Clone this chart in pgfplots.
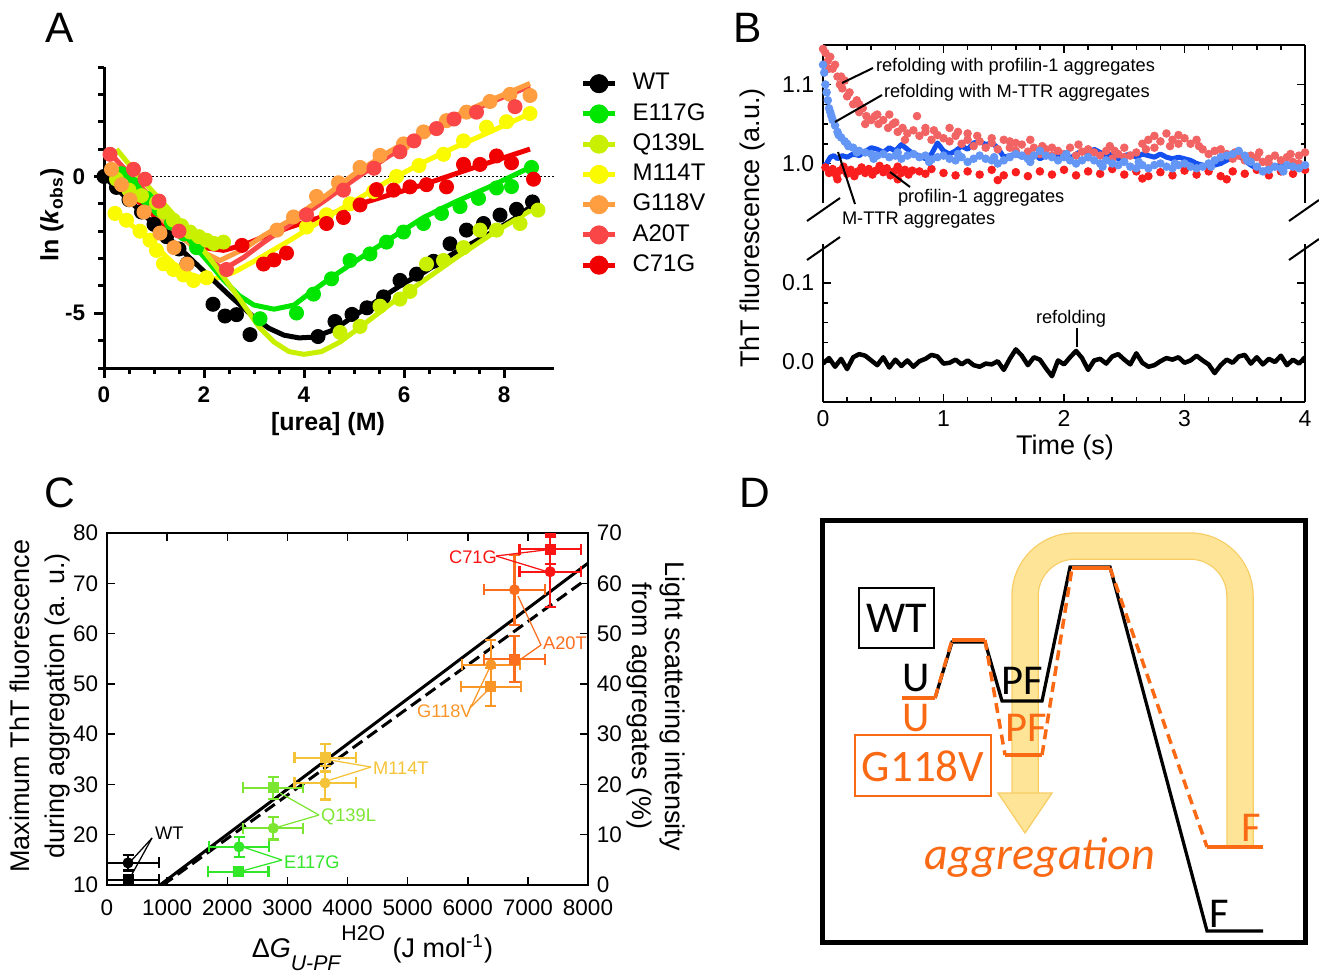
\documentclass[border=0pt]{standalone}
\usepackage{fontspec}
\setmainfont{Liberation Sans}
\newfontfamily\calibri{Carlito}
\usepackage{pgfplots}
\pgfplotsset{compat=1.18}

% panel A colours
\definecolor{aE}{RGB}{0,230,0}
\definecolor{aQ}{RGB}{200,240,0}
\definecolor{aM}{RGB}{250,250,0}
\definecolor{aG}{RGB}{255,158,64}
\definecolor{aA}{RGB}{250,70,70}
\definecolor{aC}{RGB}{240,0,0}
% panel B colours
\definecolor{bLR}{RGB}{242,100,100}
\definecolor{bR}{RGB}{250,30,30}
\definecolor{bB}{RGB}{20,80,240}
\definecolor{bLB}{RGB}{100,150,245}
% panel C colours
\definecolor{cE}{RGB}{50,230,40}
\definecolor{cQ}{RGB}{125,230,50}
\definecolor{cM}{RGB}{245,195,55}
\definecolor{cG}{RGB}{250,150,40}
\definecolor{cA}{RGB}{250,110,30}
\definecolor{cC}{RGB}{250,20,20}
% panel D colours
\definecolor{dOr}{RGB}{250,105,20}
\definecolor{band}{RGB}{253,228,150}
\definecolor{bandedge}{RGB}{248,205,100}

\begin{document}
\begin{tikzpicture}[x=0.4pt,y=0.4pt]

%================ A =================
\begin{axis}[at={(41.6pt,-147.2pt)}, anchor=south west, scale only axis,
  width=180pt, height=120.4pt,
  xmin=0, xmax=9, ymin=-7, ymax=4,
  axis lines=left, axis line style={-, line width=1.2pt},
  tick align=outside, major tick length=4pt, minor tick length=2.4pt,
  every tick/.style={black, line width=1.2pt},
  xtick={0,2,4,6,8}, xticklabels={0,2,4,6,8}, minor x tick num=3,
  ytick={-5,0}, yticklabels={-5,0},
  minor ytick={-7,-6,-4,-3,-2,-1,1,2,3,4},
  ticklabel style={font=\fontsize{9}{10}\selectfont\bfseries},
  legend style={at={(axis cs:9.52,3.82)}, anchor=north west, draw=none, fill=none,
    inner sep=0pt, row sep=3.1pt, column sep=6pt,
    font=\fontsize{9.6}{11}\selectfont,
    nodes={inner sep=0pt, text height=7pt, text depth=2pt, anchor=west}},
  legend cell align=left,
  legend image code/.code={\draw[mark repeat=2,mark phase=2,#1] plot coordinates {(0pt,0pt) (6.4pt,0pt) (12.8pt,0pt)};},
]
\addlegendimage{black, line width=2pt, mark=*, mark size=2.8pt}\addlegendentry{WT}
\addlegendimage{aE, line width=2pt, mark=*, mark size=2.8pt}\addlegendentry{E117G}
\addlegendimage{aQ, line width=2pt, mark=*, mark size=2.8pt}\addlegendentry{Q139L}
\addlegendimage{aM, line width=2pt, mark=*, mark size=2.8pt}\addlegendentry{M114T}
\addlegendimage{aG, line width=2pt, mark=*, mark size=2.8pt}\addlegendentry{G118V}
\addlegendimage{aA, line width=2pt, mark=*, mark size=2.8pt}\addlegendentry{A20T}
\addlegendimage{aC, line width=2pt, mark=*, mark size=2.8pt}\addlegendentry{C71G}

\addplot[forget plot, black, densely dotted, line width=0.6pt] coordinates {(0,0) (9,0)};

% data points
\addplot[forget plot, only marks, mark=*, mark size=2.8pt, black] coordinates {
(0.0,0.0)(0.25,-0.4)(0.5,-0.85)(0.75,-1.3)(1.0,-1.75)(1.25,-2.2)(1.5,-2.65)(1.66,-3.19)
(2.18,-4.67)(2.42,-5.1)(2.65,-5.05)(2.92,-5.78)(4.28,-5.85)(4.62,-5.3)(4.96,-5.04)(5.26,-4.8)
(5.59,-4.4)(5.92,-3.8)(6.25,-3.57)(6.59,-3.1)(6.92,-2.46)(7.25,-1.96)(7.59,-1.72)(7.92,-1.41)
(8.25,-1.2)(8.57,-0.93)};
\addplot[forget plot, only marks, mark=*, mark size=2.8pt, aE] coordinates {
(0.35,0.1)(0.6,-0.3)(0.85,-0.8)(1.1,-1.2)(1.35,-1.7)(1.6,-2.1)(1.85,-2.6)
(3.12,-5.2)(3.85,-4.99)(4.19,-4.3)(4.55,-3.74)(4.92,-3.07)(5.32,-2.83)(5.65,-2.4)(5.99,-2.03)
(6.39,-1.72)(6.75,-1.35)(7.12,-1.1)(7.49,-0.8)(7.85,-0.42)(8.15,-0.37)(8.55,0.33)};
\addplot[forget plot, only marks, mark=*, mark size=2.8pt, aQ] coordinates {
(0.25,-0.1)(0.5,-0.5)(0.75,-0.7)(1.05,-0.96)(1.2,-1.3)(1.39,-1.6)(1.55,-1.8)(1.72,-2.03)
(1.9,-2.2)(2.05,-2.33)(2.2,-2.45)(2.39,-2.4)(4.72,-5.7)(5.12,-5.48)(5.52,-4.74)(5.92,-4.48)(6.12,-4.2)
(6.45,-3.2)(6.79,-3.07)(7.19,-2.6)(7.52,-1.96)(7.85,-1.96)(8.32,-1.72)(8.68,-1.23)};
\addplot[forget plot, only marks, mark=*, mark size=2.8pt, aM] coordinates {
(0.22,-1.35)(0.45,-1.6)(0.72,-2.0)(0.92,-2.33)(1.05,-2.7)(1.19,-3.19)(1.39,-3.4)(1.59,-3.6)
(1.79,-3.8)(2.05,-3.7)(4.05,-1.85)(4.45,-1.4)(4.92,-1.0)(5.39,-0.55)(5.85,0.0)(6.3,0.4)
(6.79,0.81)(7.19,1.3)(7.65,1.8)(8.05,2.0)(8.52,2.3)};
\addplot[forget plot, only marks, mark=*, mark size=2.8pt, aG] coordinates {
(0.15,0.26)(0.35,-0.3)(0.52,-0.85)(0.8,-1.3)(1.12,-2.07)(1.4,-2.6)(1.66,-3.2)
(3.46,-1.96)(3.79,-1.48)(4.25,-0.73)(4.69,-0.23)(5.12,0.33)(5.52,0.77)(5.99,1.19)
(6.39,1.63)(6.85,2.04)(7.25,2.35)(7.72,2.74)(8.12,3.0)(8.52,2.96)};
\addplot[forget plot, only marks, mark=*, mark size=2.8pt, aA] coordinates {
(0.12,0.81)(0.59,0.26)(0.82,-0.1)(1.1,-0.9)(1.5,-2.0)(2.45,-3.4)(4.05,-1.4)(4.79,-0.5)
(5.4,0.3)(5.92,0.9)(6.2,1.3)(6.65,1.75)(7.0,2.1)(7.45,2.35)(8.22,2.55)};
\addplot[forget plot, only marks, mark=*, mark size=2.8pt, aC] coordinates {
(2.76,-2.52)(3.19,-3.2)(3.4,-3.05)(3.65,-2.8)(4.45,-1.72)(4.79,-1.5)(5.12,-1.04)(5.45,-0.48)
(5.79,-0.5)(6.12,-0.38)(6.45,-0.3)(6.85,-0.38)(7.19,0.44)(7.52,0.44)(7.85,0.75)(8.15,0.5)(8.59,-0.1)};

% fitted curves
\addplot[forget plot, aC, line width=2pt] coordinates {
(0.65,-0.85)(1.1,-1.6)(1.6,-2.3)(2.0,-2.6)(2.39,-2.7)(2.8,-2.5)(3.2,-2.2)(3.72,-1.85)
(4.4,-1.45)(5.05,-1.04)(5.7,-0.68)(6.39,-0.3)(7.0,0.08)(7.72,0.52)(8.52,1.0)};
\addplot[forget plot, aM, line width=2pt] coordinates {
(0.2,-1.3)(0.6,-1.85)(1.0,-2.5)(1.4,-3.2)(1.8,-3.65)(2.2,-3.75)(2.6,-3.5)(3.0,-3.1)
(3.72,-2.33)(4.4,-1.55)(5.05,-0.85)(5.7,-0.15)(6.39,0.52)(7.0,1.05)(7.72,1.63)(8.52,2.3)};
\addplot[forget plot, aA, line width=2pt] coordinates {
(0.15,0.8)(0.6,-0.1)(1.1,-1.1)(1.6,-2.1)(2.0,-2.9)(2.39,-3.4)(2.8,-2.95)(3.2,-2.4)
(3.72,-1.75)(4.4,-0.9)(5.05,-0.05)(5.7,0.75)(6.39,1.5)(7.0,2.1)(7.72,2.7)(8.52,3.3)};
\addplot[forget plot, aG, line width=2pt] coordinates {
(0.3,0.0)(0.8,-0.9)(1.3,-1.8)(1.8,-2.6)(2.32,-3.07)(2.8,-2.65)(3.2,-2.15)(3.72,-1.6)
(4.4,-0.75)(5.05,0.15)(5.7,0.9)(6.39,1.63)(7.0,2.2)(7.72,2.78)(8.52,3.4)};
\addplot[forget plot, aE, line width=2pt] coordinates {
(0.35,0.2)(0.8,-0.6)(1.2,-1.35)(1.6,-2.1)(2.05,-3.05)(2.4,-3.8)(2.7,-4.35)(3.0,-4.7)
(3.4,-4.85)(3.8,-4.7)(4.05,-4.35)(4.5,-3.75)(5.05,-3.07)(5.7,-2.3)(6.39,-1.5)(7.0,-0.95)
(7.72,-0.37)(8.52,0.33)};
\addplot[forget plot, black, line width=2pt] coordinates {
(0,0)(0.5,-0.87)(1,-1.74)(1.5,-2.6)(2,-3.47)(2.5,-4.33)(3.0,-5.15)(3.3,-5.55)(3.6,-5.8)
(3.9,-5.9)(4.2,-5.87)(4.6,-5.6)(5.0,-5.1)(5.5,-4.5)(6.0,-3.9)(6.4,-3.5)(7.0,-2.8)(7.7,-2.1)
(8.2,-1.55)(8.65,-0.95)};
\addplot[forget plot, aQ, line width=2pt] coordinates {
(0.25,1.0)(0.7,0.0)(1.2,-1.0)(1.72,-2.07)(2.2,-3.2)(2.72,-4.5)(3.1,-5.5)(3.4,-6.05)
(3.7,-6.4)(4.0,-6.5)(4.35,-6.4)(4.72,-6.05)(5.2,-5.4)(5.72,-4.67)(6.4,-3.8)(7.05,-2.96)
(7.8,-2.05)(8.66,-1.1)};
\end{axis}

%================ B upper =================
\begin{axis}[at={(329.2pt,-81.2pt)}, anchor=south west, scale only axis,
  width=192.8pt, height=63.2pt,
  xmin=0, xmax=4, ymin=0.95, ymax=1.15,
  axis x line*=top, axis y line*=box,
  axis line style={line width=0.8pt},
  tick align=inside, major tick length=3.2pt, minor tick length=1.8pt,
  every tick/.style={black, line width=0.6pt},
  xtick={0,1,2,3,4}, xticklabels={}, minor x tick num=4,
  ytick={1.0,1.1}, yticklabels={1.0,1.1}, minor y tick num=3,
  ticklabel style={font=\fontsize{9.2}{10}\selectfont},
]
% refolding with profilin-1 aggregates
\addplot[only marks, mark=*, mark size=1.5pt, bLR] coordinates {
(0.00,1.145)(0.02,1.14)(0.04,1.13)(0.06,1.135)(0.08,1.12)(0.10,1.125)(0.12,1.11)(0.14,1.10)
(0.16,1.095)(0.18,1.105)(0.20,1.085)(0.22,1.09)(0.25,1.075)(0.28,1.08)(0.30,1.065)(0.33,1.07)
(0.36,1.06)(0.40,1.055)(0.43,1.06)(0.46,1.05)(0.50,1.055)(0.54,1.045)(0.58,1.05)(0.62,1.04)
(0.66,1.045)(0.70,1.038)(0.75,1.042)(0.80,1.035)(0.85,1.04)(0.90,1.03)(0.95,1.036)(1.00,1.032)
(1.05,1.028)(1.10,1.035)(1.15,1.025)(1.20,1.03)(1.25,1.022)(1.30,1.028)(1.35,1.02)(1.40,1.026)
(1.45,1.018)(1.50,1.03)(1.55,1.02)(1.60,1.016)(1.65,1.024)(1.70,1.015)(1.75,1.02)(1.80,1.012)
(1.85,1.018)(1.90,1.01)(1.95,1.016)(2.00,1.012)(2.05,1.02)(2.10,1.01)(2.15,1.015)(2.20,1.008)
(2.25,1.014)(2.30,1.01)(2.35,1.016)(2.40,1.006)(2.45,1.012)(2.50,1.02)(2.55,1.01)(2.60,1.014)
(2.65,1.025)(2.70,1.03)(2.75,1.035)(2.80,1.028)(2.85,1.038)(2.90,1.03)(2.95,1.036)(3.00,1.032)
(3.05,1.025)(3.10,1.03)(3.15,1.018)(3.20,1.012)(3.25,1.016)(3.30,1.008)(3.35,1.012)(3.40,1.006)
(3.45,1.01)(3.50,1.004)(3.55,1.01)(3.60,1.008)(3.65,1.002)(3.70,1.006)(3.75,1.01)(3.80,1.004)
(3.85,1.008)(3.90,1.002)(3.95,1.01)(4.00,1.014)
(0.05,1.12)(0.15,1.11)(0.3,1.075)(0.45,1.062)(0.6,1.052)(0.78,1.06)(0.85,1.045)(1.05,1.045)
(1.2,1.038)(1.4,1.032)(1.6,1.026)(1.9,1.02)(2.2,1.018)(2.5,1.008)(2.75,1.02)(2.95,1.025)
(3.3,1.018)(3.7,1.0)(3.95,1.0)(0.35,1.05)(0.55,1.062)(1.12,1.04)(1.72,1.03)(2.38,1.022)
(0.68,1.03)(0.92,1.042)(1.28,1.035)(1.55,1.028)(1.82,1.022)(2.12,1.024)(2.42,1.016)(2.68,1.018)
(2.88,1.022)(3.12,1.022)(3.42,1.014)(3.62,1.014)(3.88,1.012)};
% profilin-1 aggregates
\addplot[only marks, mark=*, mark size=1.5pt, bR] coordinates {
(0.02,0.995)(0.05,0.988)(0.08,0.993)(0.11,0.985)(0.14,0.991)(0.17,0.996)(0.20,0.987)(0.23,0.992)
(0.26,0.984)(0.29,0.99)(0.32,0.995)(0.35,0.988)(0.38,0.993)(0.41,0.986)(0.44,0.991)(0.47,0.997)
(0.50,0.989)(0.53,0.994)(0.56,0.985)(0.59,0.99)(0.62,0.996)(0.65,0.988)(0.68,0.992)(0.71,0.986)
(0.74,0.991)(0.80,0.99)(0.85,0.987)(0.9,0.993)(1.0,0.988)(1.1,0.985)(1.2,0.99)(1.3,0.986)
(1.4,0.992)(1.5,0.985)(1.6,0.989)(1.7,0.984)(1.8,0.99)(1.9,0.986)(2.0,0.992)(2.1,0.985)
(2.2,0.99)(2.3,0.987)(2.4,0.993)(2.5,0.986)(2.6,0.99)(2.7,0.984)(2.8,0.989)(2.9,0.985)
(3.0,0.991)(3.1,0.986)(3.2,0.99)(3.3,0.984)(3.4,0.99)(3.5,0.987)(3.6,0.992)(3.7,0.985)
(3.8,0.99)(3.9,0.987)(4.0,0.992)(1.45,0.979)(0.62,0.98)(0.12,0.98)(2.65,0.981)(3.35,0.98)};
% M-TTR aggregates
\addplot[bB, line width=2pt, line join=round] coordinates {
(0,0.996)(0.03,1.0)(0.06,1.008)(0.09,1.01)(0.12,1.006)(0.16,1.01)(0.2,1.008)(0.25,1.012)
(0.3,1.01)(0.35,1.015)(0.4,1.02)(0.45,1.018)(0.5,1.014)(0.55,1.02)(0.6,1.016)(0.65,1.024)
(0.7,1.018)(0.75,1.012)(0.8,1.01)(0.85,1.006)(0.9,1.012)(0.95,1.026)(1.0,1.016)(1.05,1.012)
(1.1,1.016)(1.15,1.022)(1.2,1.018)(1.25,1.026)(1.3,1.028)(1.35,1.024)(1.4,1.026)(1.45,1.02)
(1.5,1.008)(1.55,1.01)(1.6,1.012)(1.65,1.008)(1.7,1.01)(1.75,1.012)(1.8,1.006)(1.85,1.01)
(1.9,1.008)(1.95,1.012)(2.0,1.01)(2.05,1.006)(2.1,1.012)(2.15,1.016)(2.2,1.012)(2.25,1.018)
(2.3,1.014)(2.35,1.01)(2.4,1.012)(2.45,1.006)(2.5,1.01)(2.55,1.012)(2.6,1.008)(2.65,1.012)
(2.7,1.01)(2.75,1.008)(2.8,1.012)(2.85,1.008)(2.9,1.006)(2.95,1.008)(3.0,1.006)(3.05,1.004)
(3.1,1.0)(3.15,0.998)(3.2,0.996)(3.25,0.998)(3.3,1.0)(3.35,1.004)(3.4,1.008)(3.45,1.01)
(3.5,1.004)(3.55,0.998)(3.6,0.994)(3.65,0.99)(3.7,0.994)(3.75,0.996)(3.8,0.998)(3.85,0.996)
(3.9,0.998)(3.95,0.996)(4.0,0.998)};
% refolding with M-TTR aggregates
\addplot[only marks, mark=*, mark size=1.5pt, bLB] coordinates {
(0,1.125)(0.01,1.115)(0.02,1.1)(0.03,1.09)(0.04,1.08)(0.05,1.07)(0.06,1.065)(0.08,1.055)
(0.10,1.048)(0.12,1.04)(0.15,1.033)(0.18,1.028)(0.21,1.022)(0.25,1.02)(0.3,1.016)(0.35,1.014)
(0.4,1.012)(0.45,1.01)(0.5,1.012)(0.55,1.008)(0.6,1.01)(0.65,1.006)(0.7,1.01)(0.75,1.012)
(0.8,1.008)(0.85,1.01)(0.9,1.005)(0.95,1.008)(1.0,1.01)(1.05,1.006)(1.1,1.004)(1.15,1.008)
(1.2,1.002)(1.25,1.006)(1.3,1.01)(1.35,1.006)(1.4,1.004)(1.45,1.0)(1.5,1.004)(1.55,1.008)
(1.6,1.012)(1.65,1.01)(1.7,1.006)(1.75,1.01)(1.8,1.016)(1.85,1.01)(1.9,1.008)(1.95,1.004)
(2.0,1.008)(2.05,1.004)(2.1,1.0)(2.15,1.004)(2.2,1.008)(2.25,1.004)(2.3,1.0)(2.35,1.004)
(2.4,1.0)(2.45,0.998)(2.5,1.002)(2.55,0.996)(2.6,0.994)(2.65,0.998)(2.7,0.994)(2.75,0.998)
(2.8,1.0)(2.85,0.996)(2.9,0.994)(2.95,0.998)(3.0,1.0)(3.05,0.996)(3.1,0.994)(3.15,0.996)
(3.2,1.0)(3.25,1.004)(3.3,1.008)(3.35,1.01)(3.4,1.012)(3.45,1.016)(3.5,1.01)(3.55,1.002)
(3.6,0.996)(3.65,0.99)(3.7,0.992)(3.75,0.996)(3.8,0.994)(3.85,0.998)(3.9,0.996)(3.95,0.994)(4.0,0.998)
(0.07,1.06)(0.13,1.036)(0.2,1.025)(0.28,1.014)(0.42,1.006)(0.62,1.014)(0.88,1.002)(1.12,1.012)
(1.42,1.008)(1.72,1.002)(2.02,1.012)(2.32,0.996)(2.62,1.002)(2.92,1.0)(3.22,0.996)(3.52,1.004)(3.82,0.99)};
\end{axis}

%================ B lower =================
\begin{axis}[at={(329.2pt,-160.6pt)}, anchor=south west, scale only axis,
  width=192.8pt, height=63.2pt,
  xmin=0, xmax=4, ymin=-0.05, ymax=0.15,
  axis x line*=bottom, axis y line*=box,
  axis line style={line width=0.8pt},
  tick align=inside, major tick length=3.2pt, minor tick length=1.8pt,
  every tick/.style={black, line width=0.6pt},
  xtick={0,1,2,3,4}, xticklabels={0,1,2,3,4}, minor x tick num=4,
  ytick={0,0.1}, yticklabels={0.0,0.1}, minor y tick num=3,
  ticklabel style={font=\fontsize{9.2}{10}\selectfont},
]
% refolding
\addplot[black, line width=1.8pt, line join=round] coordinates {
(0.00,-0.002)(0.05,0.005)(0.10,-0.006)(0.15,0.004)(0.20,-0.009)(0.25,0.006)(0.30,0.010)(0.35,0.008)
(0.40,0.002)(0.45,-0.004)(0.50,0.006)(0.55,-0.007)(0.60,0.003)(0.65,-0.005)(0.70,0.002)(0.75,-0.006)
(0.80,0.001)(0.85,0.004)(0.90,0.009)(0.95,0.007)(1.00,-0.002)(1.05,-0.001)(1.10,0.003)(1.15,-0.003)
(1.20,0.002)(1.25,-0.004)(1.30,-0.006)(1.35,-0.002)(1.40,-0.003)(1.45,0.001)(1.50,-0.010)(1.55,0.004)
(1.60,0.016)(1.65,0.008)(1.70,-0.004)(1.75,0.006)(1.80,0.003)(1.85,-0.008)(1.90,-0.018)(1.95,0.002)
(2.00,-0.003)(2.05,0.006)(2.10,0.014)(2.15,0.005)(2.20,-0.010)(2.25,0.002)(2.30,0.004)(2.35,-0.002)
(2.40,0.007)(2.45,0.010)(2.50,0.003)(2.55,-0.003)(2.60,0.011)(2.65,-0.001)(2.70,-0.006)(2.75,-0.004)
(2.80,0.001)(2.85,0.005)(2.90,0.003)(2.95,0.006)(3.00,-0.001)(3.05,0.002)(3.10,0.008)(3.15,0.002)
(3.20,-0.003)(3.25,-0.014)(3.30,-0.004)(3.35,0.003)(3.40,-0.001)(3.45,0.007)(3.50,0.009)(3.55,-0.002)
(3.60,0.006)(3.65,-0.003)(3.70,0.004)(3.75,0.000)(3.80,0.008)(3.85,-0.004)(3.90,0.003)(3.95,-0.002)(4.00,0.006)};
\end{axis}

%================ C =================
\begin{axis}[at={(42.8pt,-354pt)}, anchor=south west, scale only axis,
  width=192.4pt, height=140.8pt,
  xmin=0, xmax=8000, ymin=10, ymax=80,
  axis line style={line width=0.8pt},
  tick align=inside, major tick length=3.2pt,
  every tick/.style={black, line width=0.6pt},
  xtick={0,1000,2000,3000,4000,5000,6000,7000,8000},
  xticklabels={0,1000,2000,3000,4000,5000,6000,7000,8000},
  ytick={10,20,30,40,50,60,70,80}, yticklabels={10,20,30,40,50,60,70,80},
  ytick pos=left,
  ticklabel style={font=\fontsize{9}{10}\selectfont},
  xticklabel style={yshift=-2.4pt},
  error bars/error bar style={line width=0.9pt},
  error bars/error mark options={rotate=90, line width=0.9pt, mark size=2.2pt},
]
\addplot[black, line width=1.2pt] coordinates {(880,10) (8000,74)};
\addplot[black, line width=1.2pt, dash pattern=on 4.8pt off 2.4pt] coordinates {(930,10) (7950,70.6)};
% circles: ThT, squares: light scattering
\addplot[black, only marks, mark=*, mark size=2pt, error bars/.cd, x dir=both, x explicit, y dir=both, y explicit]
  coordinates {(350,14.4) +- (515,1.5)};
\addplot[black, only marks, mark=square*, mark size=2pt, error bars/.cd, x dir=both, x explicit, y dir=both, y explicit]
  coordinates {(350,11.0) +- (515,0.5)};
\addplot[cE, only marks, mark=*, mark size=2pt, error bars/.cd, x dir=both, x explicit, y dir=both, y explicit]
  coordinates {(2196,17.6) +- (500,2.0)};
\addplot[cE, only marks, mark=square*, mark size=2pt, error bars/.cd, x dir=both, x explicit, y dir=both, y explicit]
  coordinates {(2185,12.6) +- (500,0.5)};
\addplot[cQ, only marks, mark=*, mark size=2pt, error bars/.cd, x dir=both, x explicit, y dir=both, y explicit]
  coordinates {(2766,21.3) +- (500,2.25)};
\addplot[cQ, only marks, mark=square*, mark size=2pt, error bars/.cd, x dir=both, x explicit, y dir=both, y explicit]
  coordinates {(2766,29.3) +- (500,2.2)};
\addplot[cM, only marks, mark=*, mark size=2pt, error bars/.cd, x dir=both, x explicit, y dir=both, y explicit]
  coordinates {(3627,30.3) +- (510,3.3)};
\addplot[cM, only marks, mark=square*, mark size=2pt, error bars/.cd, x dir=both, x explicit, y dir=both, y explicit]
  coordinates {(3627,35.3) +- (510,2.7)};
\addplot[cG, only marks, mark=*, mark size=2pt, error bars/.cd, x dir=both, x explicit, y dir=both, y explicit]
  coordinates {(6384,53.8) +- (485,5)};
\addplot[cG, only marks, mark=square*, mark size=2pt, error bars/.cd, x dir=both, x explicit, y dir=both, y explicit]
  coordinates {(6384,49.4) +- (500,3.8)};
\addplot[cA, only marks, mark=*, mark size=2pt, error bars/.cd, x dir=both, x explicit, y dir=both, y explicit]
  coordinates {(6778,68.7) +- (507,7)};
\addplot[cA, only marks, mark=square*, mark size=2pt, error bars/.cd, x dir=both, x explicit, y dir=both, y explicit]
  coordinates {(6778,54.9) +- (510,4.6)};
\addplot[cC, only marks, mark=*, mark size=2pt, error bars/.cd, x dir=both, x explicit, y dir=both, y explicit]
  coordinates {(7371,72.3) +- (510,7)};
\addplot[cC, only marks, mark=square*, mark size=2pt, error bars/.cd, x dir=both, x explicit, y dir=both, y explicit]
  coordinates {(7371,76.8) +- (510,3)};
\end{axis}
\begin{axis}[at={(42.8pt,-354pt)}, anchor=south west, scale only axis,
  width=192.4pt, height=140.8pt,
  xmin=0, xmax=8000, ymin=0, ymax=70,
  axis x line=none, axis y line*=right,
  axis line style={line width=0.8pt},
  tick align=inside, major tick length=3.2pt,
  every tick/.style={black, line width=0.6pt},
  ytick={0,10,20,30,40,50,60,70}, yticklabels={0,10,20,30,40,50,60,70},
  ticklabel style={font=\fontsize{9}{10}\selectfont},
]
\end{axis}

%================ D =================
\begin{axis}[at={(328pt,-376.8pt)}, anchor=south west, scale only axis,
  width=195.2pt, height=168.8pt,
  xmin=820, xmax=1308, ymin=520, ymax=942, y dir=reverse,
  hide axis, clip=false]
% aggregation / folding band
\draw[bandedge, line width=11pt, rounded corners=20pt] (1240,845) -- (1240,546) -- (1025,546) -- (1025,795);
\draw[band, line width=10pt, rounded corners=20pt] (1240,845) -- (1240,546) -- (1025,546) -- (1025,796);
\filldraw[fill=band, draw=bandedge, line width=0.5pt] (998,793) -- (1052,793) -- (1025,833) -- cycle;
% WT landscape
\addplot[black, line width=1.3pt] coordinates {
(935,698)(952,642)(985,642)(1002,701)(1042,701)(1070,567)(1110,567)(1207,931)(1263,931)};
% G118V landscape
\addplot[dOr, line width=1.4pt, dash pattern=on 4pt off 2.4pt] coordinates {(935,698)(952,640)};
\addplot[dOr, line width=1.4pt, dash pattern=on 4pt off 2.4pt] coordinates {(985,640)(1005,755)};
\addplot[dOr, line width=1.4pt, dash pattern=on 4pt off 2.4pt] coordinates {(1042,755)(1072,568)};
\addplot[dOr, line width=1.4pt, dash pattern=on 4pt off 2.4pt] coordinates {(1110,568)(1207,847)};
\addplot[dOr, line width=1.6pt] coordinates {(902,698)(935,698)};
\addplot[dOr, line width=1.6pt] coordinates {(952,640)(985,640)};
\addplot[dOr, line width=1.6pt] coordinates {(1005,755)(1042,755)};
\addplot[dOr, line width=1.6pt] coordinates {(1072,568)(1110,568)};
\addplot[dOr, line width=1.6pt] coordinates {(1207,847)(1263,847)};
\draw[line width=2pt] (822,520) rectangle (1305,942);
\draw[line width=0.6pt] (859,588) rectangle (934,648);
\draw[dOr, line width=0.6pt] (855,735) rectangle (991,796);
\begin{scope}[font=\calibri\fontsize{17}{20}\selectfont]
\node at (897,618) {\fontsize{17.6}{20}\selectfont WT};
\node[text=dOr] at (923,766) {\fontsize{18}{20}\selectfont G118V};
\node at (916,678) {U};
\node at (1022,681) {PF};
\node[text=dOr] at (916,718) {U};
\node[text=dOr] at (1026,728) {PF};
\node[text=dOr] at (1251,828) {F};
\node at (1219,914) {F};
\node[text=dOr] at (1040,857) {\fontsize{18.5}{20}\selectfont\itshape aggregation};
\end{scope}
\end{axis}

% ---------- texts and annotations, in pixel coordinates (y down) ----------
\begin{scope}[x=0.4pt, y=-0.4pt]
\node[font=\fontsize{17}{20}\selectfont] at (60,28) {A};
\node[font=\fontsize{17}{20}\selectfont] at (748,28) {B};
\node[font=\fontsize{17}{20}\selectfont] at (60,493) {C};
\node[font=\fontsize{17}{20}\selectfont] at (755,493) {D};

\node[rotate=90, font=\fontsize{10}{12}\selectfont\bfseries] at (52,215) {ln (\textit{k}\textsubscript{obs})};
\node[font=\fontsize{10}{12}\selectfont\bfseries] at (328,424) {[urea] (M)};

% B axis breaks
\draw[line width=0.8pt] (807,221) -- (840,198);
\draw[line width=0.8pt] (807,260) -- (840,237);
\draw[line width=0.8pt] (1289,221) -- (1319,200);
\draw[line width=0.8pt] (1289,260) -- (1319,239);
% B annotations
\begin{scope}[font=\fontsize{7.3}{8.5}\selectfont]
\draw[line width=0.8pt] (842,83) -- (873,68);
\node[anchor=west, inner sep=1pt] at (873,67) {refolding with profilin-1 aggregates};
\draw[line width=0.8pt] (835,122) -- (882,95);
\node[anchor=west, inner sep=1pt] at (881,93) {refolding with M-TTR aggregates};
\draw[line width=0.8pt] (890,172) -- (910,187);
\node[anchor=west, inner sep=1pt] at (895,198) {profilin-1 aggregates};
\draw[line width=0.8pt] (838,152) -- (855,204);
\node[anchor=west, inner sep=1pt] at (839,220) {M-TTR aggregates};
\node at (1071,319) {refolding};
\draw[line width=0.8pt] (1077,328) -- (1077,347);
\end{scope}
\node[rotate=90, font=\fontsize{10.8}{12}\selectfont] at (753,228) {ThT fluorescence (a.u.)};
\node[font=\fontsize{10.8}{12}\selectfont] at (1065,448) {Time (s)};

% C callouts
\begin{scope}[font=\fontsize{7.3}{8.5}\selectfont, line width=0.5pt]
\node[anchor=west, inner sep=1pt] at (152,833) {WT};
\draw (152,838) -- (131,861); \draw (152,838) -- (131,876);
\node[anchor=west, inner sep=1pt, text=cE] at (281,862) {E117G};
\draw[cE] (282,860) -- (243,847); \draw[cE] (282,860) -- (242,871);
\node[anchor=west, inner sep=1pt, text=cQ] at (318,817) {Q139L};
\draw[cQ] (319,815) -- (280,793); \draw[cQ] (319,815) -- (278,827);
\node[anchor=west, inner sep=1pt, text=cM] at (370,768) {M114T};
\draw[cM] (371,767) -- (330,760); \draw[cM] (371,767) -- (330,780);
\node[anchor=west, inner sep=1pt, text=cG] at (414,711) {G118V};
\draw[cG] (471,707) -- (488,690); \draw[cG] (471,707) -- (489,669);
\node[anchor=west, inner sep=1pt, text=cA] at (540,643) {A20T};
\draw[cA] (541,645) -- (518,596); \draw[cA] (541,645) -- (521,659);
\node[anchor=west, inner sep=1pt, text=cC] at (446,557) {C71G};
\draw[cC] (496,556) -- (545,550); \draw[cC] (496,556) -- (545,571);
\end{scope}
\node[rotate=90, align=center, font=\fontsize{10.8}{14}\selectfont] at (40,706)
  {Maximum ThT fluorescence\\during aggregation (a. u.)};
\node[rotate=-90, align=center, font=\fontsize{10.8}{13}\selectfont] at (656,706)
  {Light scattering intensity\\from aggregates (\%)};
\node[anchor=base west, font=\fontsize{10.8}{13}\selectfont] at (243,957)
  {Δ\textit{G}\raisebox{-0.5em}{\fontsize{8.5}{10}\selectfont\textit{U-PF}}\raisebox{0.6em}{\fontsize{8.5}{10}\selectfont H2O} (J mol\textsuperscript{-1})};

\pgfresetboundingbox
\path (0,0) rectangle (1319,973);
\end{scope}
\end{tikzpicture}
\end{document}
